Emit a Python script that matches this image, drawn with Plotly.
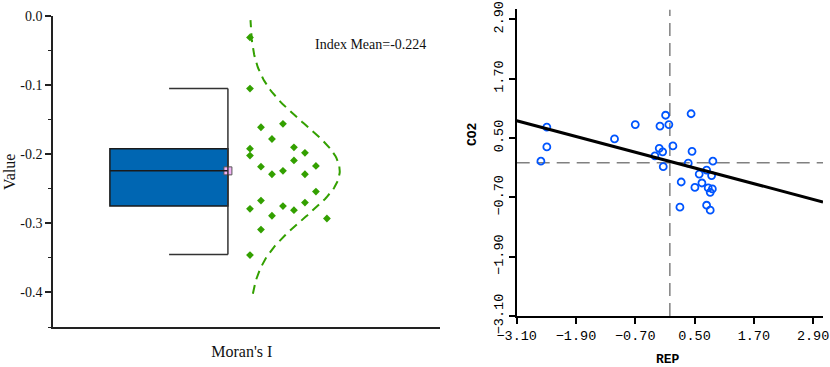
import numpy as np
import plotly.graph_objects as go

# ---------------- Data: left panel (Moran's I) ----------------
moran_values = [-0.031, -0.105, -0.192, -0.202, -0.279, -0.346,
                -0.161, -0.218, -0.267, -0.309,
                -0.178, -0.229, -0.289,
                -0.156, -0.224, -0.275,
                -0.190, -0.209, -0.281,
                -0.198, -0.229, -0.270,
                -0.217, -0.254,
                -0.293]
box_q1 = -0.275
box_median = -0.224
box_q3 = -0.192
whisker_low = -0.345
whisker_high = -0.105
left_ytick_vals = [0.0, -0.1, -0.2, -0.3, -0.4]
left_ytick_text = ["0.0", "-0.1", "-0.2", "-0.3", "-0.4"]
left_category = ["Moran's I"]

# ---------------- Data: right panel (Moran scatter) ----------------
rep = [-2.49, -2.49, -2.61, -1.12, -0.70, -0.20, -0.086, -0.02, 0.43,
       -0.215, -0.146, -0.302, 0.062, 0.449, -0.134, 0.372, 0.871,
       0.23, 0.594, 0.744, 0.845, 0.649, 0.507, 0.776, 0.817,
       0.204, 0.744, 0.817, 0.86]
co2 = [0.72, 0.32, 0.03, 0.48, 0.77, 0.74, 0.96, 0.77, 0.99,
       0.29, 0.22, 0.14, 0.34, 0.23, -0.08, -0.01, 0.03,
       -0.39, -0.23, -0.15, -0.26, -0.41, -0.50, -0.51, -0.60,
       -0.90, -0.86, -0.96, -0.53]
reg_slope = -0.265
reg_intercept = 0.027
right_tick_vals = [-3.1, -1.9, -0.7, 0.5, 1.7, 2.9]
right_tick_text = ["\u22123.10", "\u22121.90", "\u22120.70", "0.50", "1.70", "2.90"]

# ---------------- Layout helpers ----------------
W, H = 830, 367
def px_x(p):
    return p / W
def px_y(p):
    return 1 - p / H

serif = "Liberation Serif, Times New Roman, serif"
mono = "Liberation Mono, DejaVu Sans Mono, monospace"

fig = go.Figure()

# ---- left panel geometry (data coords on x axis) ----
box_x0, box_x1, cap_x0 = 0.659, 0.964, 0.812
dot_x0, dot_dx = 1.021, 0.0284
dot_column = [0]*6 + [1]*4 + [2]*3 + [3]*3 + [4]*3 + [5]*3 + [6]*2 + [7]
curve_base, curve_amp = 1.021, 0.232

mean_val = float(np.mean(moran_values))
sd_val = float(np.std(moran_values, ddof=1))

# box
fig.add_shape(type="rect", xref="x", yref="y", x0=box_x0, x1=box_x1,
              y0=box_q1, y1=box_q3, fillcolor="#0066b2",
              line=dict(color="#1a1a1a", width=1.5), layer="below")
# median
fig.add_shape(type="line", xref="x", yref="y", x0=box_x0, x1=box_x1,
              y0=box_median, y1=box_median, line=dict(color="#1a1a1a", width=1.5))
# whisker (half style)
fig.add_shape(type="line", xref="x", yref="y", x0=box_x1, x1=box_x1,
              y0=whisker_low, y1=whisker_high, line=dict(color="#333333", width=1.5))
for wv in (whisker_low, whisker_high):
    fig.add_shape(type="line", xref="x", yref="y", x0=cap_x0, x1=box_x1,
                  y0=wv, y1=wv, line=dict(color="#333333", width=1.5))

# normal curve
yc = np.linspace(-0.402, -0.006, 200)
xc = curve_base + curve_amp * np.exp(-(yc - mean_val) ** 2 / (2 * sd_val ** 2))
fig.add_trace(go.Scatter(x=xc, y=yc, mode="lines", xaxis="x", yaxis="y",
                         line=dict(color="#33a000", width=2, dash="9px,6px"),
                         hoverinfo="skip", showlegend=False))
# dots
fig.add_trace(go.Scatter(x=[dot_x0 + c * dot_dx for c in dot_column], y=moran_values,
                         mode="markers", xaxis="x", yaxis="y",
                         marker=dict(symbol="diamond", size=6, color="#33a000"),
                         showlegend=False))
# mean marker
fig.add_trace(go.Scatter(x=[box_x1], y=[mean_val], mode="markers", xaxis="x", yaxis="y",
                         marker=dict(symbol="square", size=8, color="#f2b2f6",
                                     line=dict(color="#555555", width=1)),
                         showlegend=False, cliponaxis=False))

# ---- right panel ----
fig.add_trace(go.Scatter(x=[0, 0], y=[-3.1, 3.1], mode="lines", xaxis="x2", yaxis="y2",
                         line=dict(color="#808080", width=1.5, dash="13px,7px"),
                         showlegend=False, hoverinfo="skip"))
fig.add_trace(go.Scatter(x=[-3.1, 3.1], y=[0, 0], mode="lines", xaxis="x2", yaxis="y2",
                         line=dict(color="#808080", width=1.5, dash="13px,7px"),
                         showlegend=False, hoverinfo="skip"))
fig.add_trace(go.Scatter(x=rep, y=co2, mode="markers", xaxis="x2", yaxis="y2",
                         marker=dict(symbol="circle-open", size=7, color="#0055ff",
                                     line=dict(width=1.8, color="#0055ff")),
                         showlegend=False))
reg_x = np.array([-3.1, 3.1])
fig.add_trace(go.Scatter(x=reg_x, y=reg_intercept + reg_slope * reg_x, mode="lines",
                         xaxis="x2", yaxis="y2", line=dict(color="black", width=3),
                         showlegend=False))

fig.update_layout(
    width=W, height=H, autosize=False,
    margin=dict(l=0, r=0, t=0, b=0, autoexpand=False),
    paper_bgcolor="white", plot_bgcolor="white",
    showlegend=False,
    xaxis=dict(domain=[px_x(53), px_x(440)], range=[0.512, 1.512], anchor="y",
               automargin=False,
               showline=True, linecolor="#222222", linewidth=1.5,
               tickvals=[1], ticktext=left_category, ticks="", ticklabelstandoff=9,
               tickfont=dict(family=serif, size=16, color="#111111"),
               showgrid=False, zeroline=False, fixedrange=True),
    yaxis=dict(domain=[px_y(327), px_y(16)], range=[-0.45, 0], anchor="x",
               automargin=False,
               showline=True, linecolor="#222222", linewidth=1.5,
               tickvals=left_ytick_vals, ticktext=left_ytick_text,
               ticks="outside", ticklen=6, tickwidth=1.5, tickcolor="#222222",
               minor=dict(tickvals=[-0.05, -0.15, -0.25, -0.35, -0.45],
                          ticks="outside", ticklen=3, tickwidth=1.2, tickcolor="#222222"),
               tickfont=dict(family=serif, size=14, color="#111111"),
               showgrid=False, zeroline=False, fixedrange=True),
    xaxis2=dict(domain=[px_x(516.7), px_x(823)], range=[-3.1, 3.1], anchor="y2",
                automargin=False,
                showline=True, linecolor="black", linewidth=2,
                tickvals=right_tick_vals, ticktext=right_tick_text,
                ticks="outside", ticklen=6, tickwidth=1.5, tickcolor="black",
                tickfont=dict(family=mono, size=13.5, color="black"),
                showgrid=False, zeroline=False, fixedrange=True),
    yaxis2=dict(domain=[px_y(316), px_y(9.4)], range=[-3.1, 3.1], anchor="x2",
                automargin=False,
                showline=True, linecolor="black", linewidth=2,
                tickvals=right_tick_vals, ticktext=right_tick_text, tickangle=-90,
                ticks="outside", ticklen=6, tickwidth=1.5, tickcolor="black",
                tickfont=dict(family=mono, size=13.5, color="black"),
                showgrid=False, zeroline=False, fixedrange=True),
    annotations=[
        dict(text=f"Index Mean={mean_val:.3f}", x=px_x(313), y=px_y(44), xref="paper", yref="paper",
             xanchor="left", yanchor="middle", showarrow=False,
             font=dict(family=serif, size=14, color="#111111")),
        dict(text="Value", x=px_x(9), y=px_y(172), xref="paper", yref="paper",
             xanchor="center", yanchor="middle", showarrow=False, textangle=-90,
             font=dict(family=serif, size=16, color="#111111")),
        dict(text="<b>CO2</b>", x=px_x(472), y=px_y(134), xref="paper", yref="paper",
             xanchor="center", yanchor="middle", showarrow=False, textangle=-90,
             font=dict(family=mono, size=13, color="black")),
        dict(text="<b>REP</b>", x=px_x(668), y=px_y(359), xref="paper", yref="paper",
             xanchor="center", yanchor="middle", showarrow=False,
             font=dict(family=mono, size=13, color="black")),
    ],
)

fig.write_html("out.html", config={"displayModeBar": False},
               post_script="document.body.style.margin='0';document.body.style.overflow='hidden';")
